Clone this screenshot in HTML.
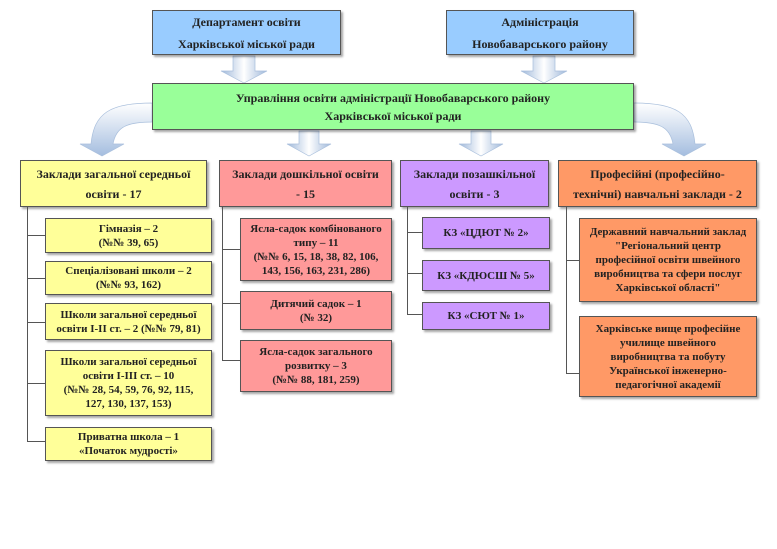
<!DOCTYPE html>
<html><head><meta charset="utf-8"><style>
body{margin:0;width:777px;height:549px;background:#fff;position:relative;overflow:hidden;font-family:"Liberation Serif","DejaVu Serif",serif;font-weight:bold;color:#222}
.b{position:absolute;box-sizing:border-box;border:1px solid #555;display:flex;align-items:center;justify-content:center;text-align:center;font-size:11px;line-height:14px;box-shadow:2px 2px 2px rgba(0,0,0,.35);white-space:nowrap}
.blue{background:#99ccff}.green{background:#99ff99}.y{background:#ffff99}.p{background:#ff9999}.v{background:#cc99ff}.o{background:#ff9966}
.h{font-size:12px;line-height:20px}
.l{position:absolute;background:#555}
</style></head><body>
<svg width="777" height="549" style="position:absolute;left:0;top:0">
<defs>
<linearGradient id="g2" x1="0" y1="0" x2="1" y2="0"><stop offset="0" stop-color="#9fb8da"/><stop offset=".5" stop-color="#fff"/><stop offset="1" stop-color="#9fb8da"/></linearGradient>
<linearGradient id="g3" x1="0" y1="0" x2="0" y2="1"><stop offset="0" stop-color="#fff"/><stop offset="1" stop-color="#a4bddf"/></linearGradient></defs>
<g fill="url(#g2)" stroke="#a9bfdc" stroke-width=".7">
<path d="M233 56h22v15h12l-23 12l-23-12h12z"/>
<path d="M533 56h22v15h12l-23 12l-23-12h12z"/>
<path d="M299 131h20v13h12l-22 12l-22-12h12z"/>
<path d="M471 131h20v13h12l-22 12l-22-12h12z"/>
</g>
<g fill="url(#g3)" stroke="#a9bfdc" stroke-width=".7">
<path d="M152 103c-42 0-58 10-61 41h-11l22 12l22-12h-11c3-17 14-22 39-22z"/>
<path d="M634 103c42 0 58 10 61 41h11l-22 12l-22-12h11c-3-17-14-22-39-22z"/>
</g></svg>
<div class="b blue h" style="left:152px;top:10px;width:189px;height:45px;line-height:22px">Департамент освіти<br>Харківської міської ради</div>
<div class="b blue h" style="left:446px;top:10px;width:188px;height:45px;line-height:22px">Адміністрація<br>Новобаварського району</div>
<div class="b green h" style="left:152px;top:83px;width:482px;height:47px;line-height:18px">Управління освіти адміністрації Новобаварського району<br>Харківської міської ради</div>
<div class="b y h" style="left:20px;top:160px;width:187px;height:47px">Заклади загальної середньої<br>освіти - 17</div>
<div class="b p h" style="left:219px;top:160px;width:173px;height:47px">Заклади дошкільної освіти<br>- 15</div>
<div class="b v h" style="left:400px;top:160px;width:149px;height:47px">Заклади позашкільної<br>освіти - 3</div>
<div class="b o h" style="left:558px;top:160px;width:199px;height:47px">Професійні (професійно-<br>технічні) навчальні заклади - 2</div>
<div class="l" style="left:27px;top:207px;width:1px;height:235px"></div>
<div class="l" style="left:27px;top:235px;width:18px;height:1px"></div>
<div class="l" style="left:27px;top:278px;width:18px;height:1px"></div>
<div class="l" style="left:27px;top:322px;width:18px;height:1px"></div>
<div class="l" style="left:27px;top:383px;width:18px;height:1px"></div>
<div class="l" style="left:27px;top:441px;width:18px;height:1px"></div>
<div class="b y" style="left:45px;top:218px;width:167px;height:35px">Гімназія – 2<br>(№№ 39, 65)</div>
<div class="b y" style="left:45px;top:261px;width:167px;height:34px">Спеціалізовані школи – 2<br>(№№ 93, 162)</div>
<div class="b y" style="left:45px;top:303px;width:167px;height:37px">Школи загальної середньої<br>освіти І-ІІ ст. – 2 (№№ 79, 81)</div>
<div class="b y" style="left:45px;top:350px;width:167px;height:66px">Школи загальної середньої<br>освіти І-ІІІ ст. – 10<br>(№№ 28, 54, 59, 76, 92, 115,<br>127, 130, 137, 153)</div>
<div class="b y" style="left:45px;top:427px;width:167px;height:34px">Приватна школа – 1<br>«Початок мудрості»</div>
<div class="l" style="left:222px;top:207px;width:1px;height:154px"></div>
<div class="l" style="left:222px;top:249px;width:18px;height:1px"></div>
<div class="l" style="left:222px;top:303px;width:18px;height:1px"></div>
<div class="l" style="left:222px;top:360px;width:18px;height:1px"></div>
<div class="b p" style="left:240px;top:218px;width:152px;height:63px">Ясла-садок комбінованого<br>типу – 11<br>(№№ 6, 15, 18, 38, 82, 106,<br>143, 156, 163, 231, 286)</div>
<div class="b p" style="left:240px;top:291px;width:152px;height:39px">Дитячий садок – 1<br>(№ 32)</div>
<div class="b p" style="left:240px;top:340px;width:152px;height:52px">Ясла-садок загального<br>розвитку – 3<br>(№№ 88, 181, 259)</div>
<div class="l" style="left:407px;top:207px;width:1px;height:108px"></div>
<div class="l" style="left:407px;top:232px;width:15px;height:1px"></div>
<div class="l" style="left:407px;top:273px;width:15px;height:1px"></div>
<div class="l" style="left:407px;top:314px;width:15px;height:1px"></div>
<div class="b v" style="left:422px;top:217px;width:128px;height:32px">КЗ «ЦДЮТ № 2»</div>
<div class="b v" style="left:422px;top:260px;width:128px;height:31px">КЗ «КДЮСШ № 5»</div>
<div class="b v" style="left:422px;top:302px;width:128px;height:28px">КЗ «СЮТ № 1»</div>
<div class="l" style="left:566px;top:207px;width:1px;height:167px"></div>
<div class="l" style="left:566px;top:260px;width:13px;height:1px"></div>
<div class="l" style="left:566px;top:373px;width:13px;height:1px"></div>
<div class="b o" style="left:579px;top:218px;width:178px;height:84px">Державний навчальний заклад<br>"Регіональний центр<br>професійної освіти швейного<br>виробництва та сфери послуг<br>Харківської області"</div>
<div class="b o" style="left:579px;top:316px;width:178px;height:81px">Харківське вище професійне<br>училище швейного<br>виробництва та побуту<br>Української інженерно-<br>педагогічної академії</div>
</body></html>
